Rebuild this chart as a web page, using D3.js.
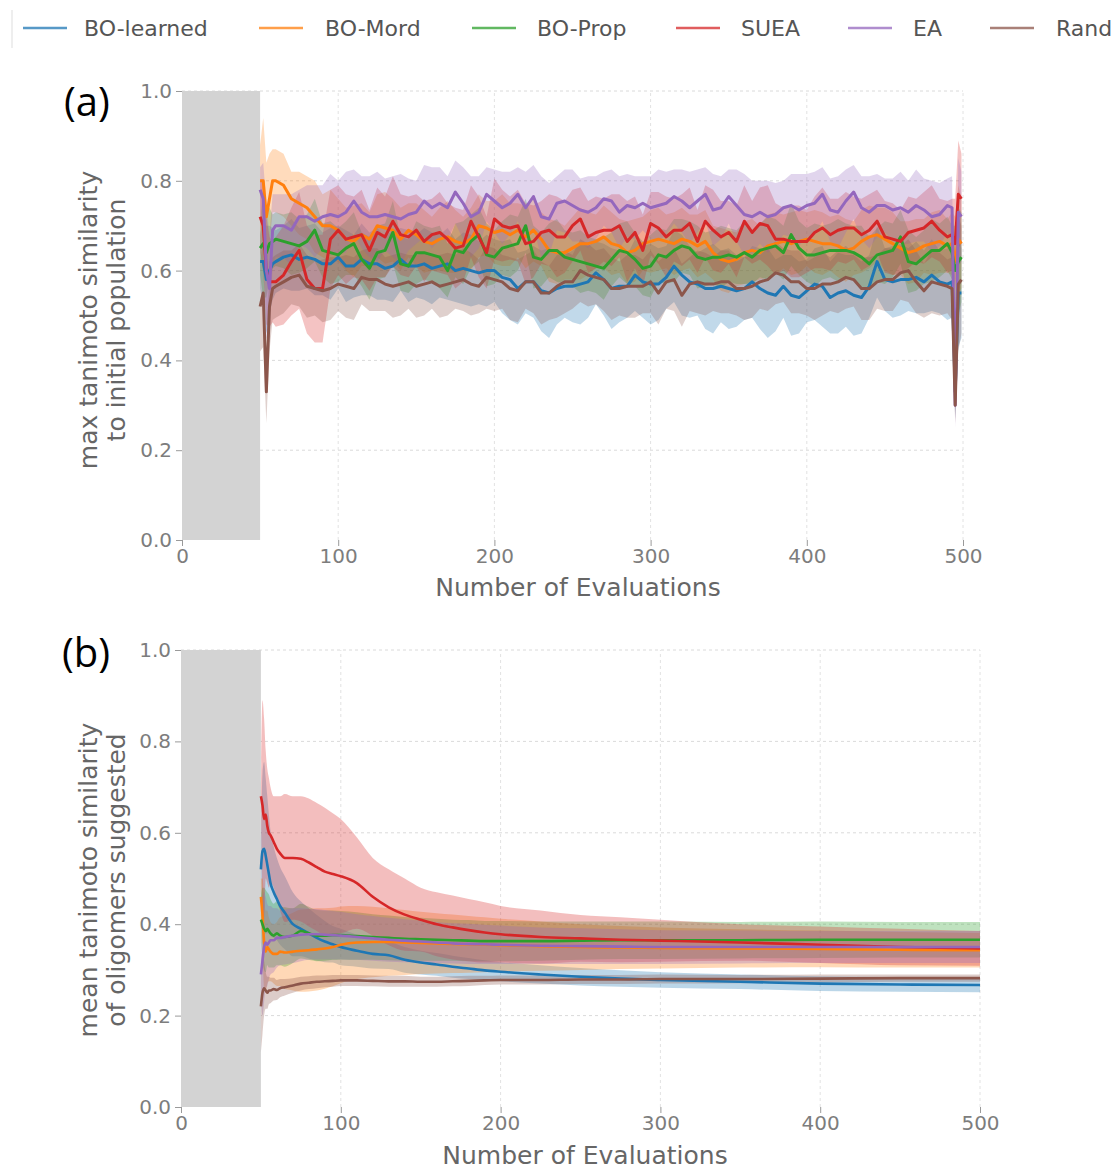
<!DOCTYPE html>
<html><head><meta charset="utf-8">
<script src="https://cdn.jsdelivr.net/npm/d3@7"></script>
<style>body{margin:0;background:#fff} svg{display:block}</style>
</head><body>
<svg id="c" width="1115" height="1169"></svg>
<script>
// ---------- categories / legend ----------
const seriesNames = ["BO-learned", "BO-Mord", "BO-Prop", "SUEA", "EA", "Rand"];
const seriesColors = ["#1f77b4", "#ff7f0e", "#2ca02c", "#d62728", "#9467bd", "#8c564b"];
const xTicks = [0, 100, 200, 300, 400, 500];
const yTicks = [0.0, 0.2, 0.4, 0.6, 0.8, 1.0];
const initialPopulationEnd = 50;

// ---------- panel (a): max tanimoto similarity to initial population ----------
const xA = [50,52,54,56,58,60,
65,70,75,80,85,90,95,100,
105,110,115,120,125,130,135,140,
145,150,155,160,165,170,175,180,
185,190,195,200,205,210,215,220,
225,230,235,240,245,250,255,260,
265,270,275,280,285,290,295,300,
305,310,315,320,325,330,335,340,
345,350,355,360,365,370,375,380,
385,390,395,400,405,410,415,420,
425,430,435,440,445,450,455,460,
465,470,475,480,485,490,
493,495,497,499];

const aBOlearned = [0.62,0.62,0.58,0.60,0.615,0.62,
0.63,0.635,0.625,0.63,0.625,0.615,0.615,0.63,
0.61,0.61,0.625,0.615,0.615,0.605,0.61,0.625,
0.61,0.61,0.615,0.605,0.61,0.615,0.60,0.605,
0.60,0.595,0.60,0.60,0.585,0.58,0.56,0.575,
0.575,0.555,0.55,0.56,0.565,0.565,0.57,0.575,
0.595,0.58,0.56,0.565,0.565,0.59,0.575,0.57,
0.57,0.585,0.61,0.59,0.575,0.57,0.56,0.56,
0.565,0.56,0.555,0.56,0.575,0.56,0.55,0.545,
0.565,0.545,0.54,0.555,0.57,0.565,0.54,0.55,
0.555,0.545,0.54,0.565,0.62,0.58,0.575,0.58,
0.58,0.585,0.575,0.59,0.575,0.57,
0.575,0.33,0.55,0.55];

const aBOMord = [0.80,0.80,0.72,0.76,0.80,0.80,
0.79,0.76,0.75,0.74,0.72,0.70,0.70,0.69,
0.67,0.665,0.68,0.67,0.70,0.695,0.69,0.67,
0.69,0.68,0.665,0.66,0.67,0.675,0.665,0.66,
0.67,0.70,0.695,0.685,0.69,0.68,0.69,0.675,
0.69,0.67,0.645,0.64,0.64,0.65,0.66,0.66,
0.665,0.675,0.66,0.655,0.64,0.645,0.66,0.665,
0.67,0.665,0.66,0.67,0.665,0.655,0.665,0.64,
0.625,0.62,0.625,0.64,0.645,0.64,0.655,0.66,
0.665,0.66,0.665,0.67,0.665,0.66,0.66,0.655,
0.645,0.65,0.665,0.675,0.68,0.67,0.66,0.65,
0.64,0.645,0.655,0.66,0.665,0.655,
0.66,0.62,0.67,0.66];

const aBOProp = [0.65,0.66,0.64,0.66,0.665,0.67,
0.665,0.66,0.655,0.665,0.69,0.645,0.64,0.635,
0.65,0.66,0.625,0.605,0.64,0.645,0.685,0.615,
0.61,0.64,0.64,0.635,0.63,0.60,0.645,0.64,
0.665,0.68,0.635,0.63,0.65,0.655,0.66,0.70,
0.63,0.625,0.645,0.645,0.63,0.625,0.62,0.615,
0.61,0.605,0.625,0.645,0.64,0.625,0.605,0.61,
0.635,0.63,0.645,0.655,0.65,0.63,0.625,0.63,
0.63,0.635,0.63,0.64,0.63,0.645,0.65,0.655,
0.64,0.68,0.65,0.635,0.635,0.64,0.645,0.645,
0.645,0.64,0.63,0.615,0.635,0.64,0.645,0.675,
0.62,0.615,0.63,0.645,0.645,0.66,
0.64,0.60,0.62,0.63];

const aSUEA = [0.72,0.70,0.60,0.575,0.575,0.575,
0.59,0.62,0.645,0.58,0.56,0.56,0.67,0.69,
0.67,0.675,0.68,0.645,0.685,0.675,0.71,0.68,
0.675,0.69,0.665,0.68,0.685,0.67,0.65,0.655,
0.71,0.675,0.64,0.715,0.70,0.695,0.70,0.66,
0.665,0.685,0.69,0.675,0.675,0.70,0.715,0.675,
0.685,0.69,0.69,0.70,0.665,0.685,0.645,0.705,
0.695,0.675,0.69,0.69,0.705,0.665,0.71,0.69,
0.675,0.685,0.665,0.71,0.685,0.705,0.70,0.67,
0.67,0.665,0.665,0.665,0.685,0.695,0.68,0.69,
0.695,0.695,0.68,0.69,0.71,0.675,0.67,0.665,
0.685,0.69,0.695,0.71,0.69,0.675,
0.68,0.66,0.77,0.76];

const aEA = [0.78,0.76,0.60,0.56,0.69,0.70,
0.70,0.69,0.72,0.72,0.71,0.72,0.725,0.72,
0.73,0.755,0.73,0.72,0.72,0.725,0.72,0.715,
0.725,0.73,0.755,0.74,0.75,0.74,0.775,0.75,
0.72,0.73,0.77,0.755,0.74,0.75,0.77,0.74,
0.765,0.72,0.715,0.75,0.755,0.745,0.735,0.73,
0.74,0.76,0.755,0.73,0.745,0.74,0.75,0.74,
0.745,0.75,0.765,0.755,0.74,0.755,0.77,0.735,
0.74,0.765,0.745,0.725,0.72,0.73,0.72,0.725,
0.74,0.745,0.735,0.745,0.75,0.77,0.735,0.73,
0.755,0.775,0.74,0.73,0.745,0.745,0.735,0.74,
0.73,0.745,0.735,0.72,0.725,0.745,
0.74,0.30,0.73,0.72];

const aRand = [0.52,0.55,0.33,0.52,0.56,0.565,
0.575,0.585,0.59,0.565,0.56,0.555,0.56,0.57,
0.565,0.56,0.585,0.58,0.58,0.57,0.565,0.57,
0.575,0.565,0.57,0.575,0.565,0.57,0.575,0.58,
0.57,0.565,0.585,0.58,0.575,0.56,0.555,0.575,
0.575,0.55,0.55,0.565,0.575,0.575,0.60,0.59,
0.585,0.58,0.56,0.56,0.565,0.565,0.565,0.575,
0.55,0.575,0.58,0.545,0.57,0.575,0.57,0.57,
0.575,0.575,0.56,0.56,0.565,0.575,0.58,0.595,
0.59,0.575,0.575,0.56,0.56,0.57,0.57,0.575,
0.585,0.58,0.56,0.56,0.575,0.58,0.58,0.595,
0.60,0.575,0.555,0.575,0.57,0.565,
0.56,0.30,0.57,0.58];

// spread (std) of the shaded bands, panel (a)
const sdA_BOlearned = [0.06,0.10,0.12,0.10,0.08,0.07,
0.07,0.08,0.07,0.07,0.08,0.07,0.08,0.07,
0.08,0.07,0.08,0.07,0.08,0.07,0.08,0.07,
0.08,0.07,0.08,0.08,0.07,0.08,0.07,0.08,
0.08,0.07,0.08,0.07,0.08,0.09,0.08,0.07,
0.08,0.09,0.10,0.08,0.07,0.08,0.09,0.08,
0.07,0.08,0.09,0.08,0.07,0.08,0.08,0.09,
0.08,0.07,0.08,0.09,0.08,0.07,0.09,0.10,
0.08,0.09,0.08,0.07,0.08,0.09,0.10,0.08,
0.07,0.09,0.08,0.07,0.08,0.09,0.08,0.09,
0.08,0.09,0.08,0.07,0.08,0.07,0.08,0.08,
0.07,0.08,0.07,0.08,0.07,0.08,
0.08,0.06,0.12,0.10];
const sdA_BOMord = [0.08,0.14,0.12,0.10,0.07,0.07,
0.07,0.06,0.07,0.07,0.08,0.07,0.08,0.07,
0.07,0.08,0.07,0.06,0.07,0.08,0.07,0.07,
0.06,0.07,0.07,0.06,0.07,0.08,0.07,0.06,
0.07,0.07,0.06,0.07,0.08,0.07,0.06,0.07,
0.07,0.06,0.07,0.07,0.06,0.07,0.08,0.07,
0.06,0.07,0.07,0.06,0.07,0.07,0.06,0.07,
0.07,0.06,0.07,0.07,0.06,0.07,0.07,0.06,
0.07,0.07,0.06,0.07,0.07,0.06,0.07,0.07,
0.06,0.07,0.07,0.06,0.07,0.07,0.06,0.07,
0.07,0.06,0.07,0.07,0.06,0.07,0.07,0.06,
0.07,0.07,0.06,0.07,0.07,0.06,
0.07,0.10,0.12,0.10];
const sdA_BOProp = [0.06,0.12,0.10,0.08,0.06,0.06,
0.06,0.07,0.06,0.06,0.07,0.06,0.07,0.06,
0.06,0.07,0.06,0.07,0.06,0.06,0.07,0.06,
0.06,0.07,0.06,0.06,0.07,0.06,0.06,0.07,
0.06,0.06,0.07,0.06,0.06,0.07,0.06,0.06,
0.07,0.06,0.06,0.07,0.06,0.06,0.07,0.06,
0.06,0.07,0.06,0.06,0.07,0.06,0.06,0.07,
0.06,0.06,0.07,0.06,0.06,0.07,0.06,0.06,
0.07,0.06,0.06,0.07,0.06,0.06,0.07,0.06,
0.06,0.07,0.06,0.06,0.07,0.06,0.06,0.07,
0.06,0.06,0.07,0.06,0.06,0.07,0.06,0.06,
0.07,0.06,0.06,0.07,0.06,0.06,
0.06,0.10,0.12,0.10];
const sdA_SUEA = [0.08,0.10,0.12,0.10,0.09,0.10,
0.11,0.12,0.13,0.12,0.12,0.12,0.11,0.10,
0.10,0.09,0.10,0.09,0.10,0.09,0.10,0.09,
0.09,0.08,0.09,0.08,0.09,0.08,0.09,0.08,
0.08,0.09,0.08,0.09,0.08,0.07,0.08,0.09,
0.08,0.07,0.08,0.09,0.08,0.08,0.07,0.08,
0.08,0.07,0.08,0.07,0.09,0.08,0.08,0.07,
0.08,0.09,0.07,0.08,0.08,0.07,0.08,0.09,
0.08,0.07,0.08,0.08,0.07,0.08,0.09,0.08,
0.07,0.08,0.08,0.07,0.08,0.09,0.08,0.07,
0.08,0.07,0.08,0.08,0.07,0.08,0.08,0.07,
0.08,0.07,0.08,0.08,0.07,0.08,
0.08,0.10,0.12,0.10];
const sdA_EA = [0.05,0.08,0.15,0.12,0.08,0.07,
0.07,0.08,0.06,0.07,0.08,0.07,0.09,0.08,
0.09,0.07,0.08,0.09,0.10,0.08,0.09,0.10,
0.08,0.07,0.08,0.09,0.08,0.07,0.07,0.08,
0.09,0.08,0.06,0.07,0.08,0.07,0.06,0.08,
0.07,0.09,0.08,0.06,0.07,0.08,0.07,0.08,
0.07,0.06,0.07,0.08,0.07,0.07,0.06,0.07,
0.08,0.07,0.06,0.07,0.08,0.07,0.06,0.08,
0.07,0.06,0.08,0.09,0.08,0.07,0.08,0.07,
0.06,0.07,0.08,0.07,0.07,0.06,0.07,0.08,
0.07,0.06,0.07,0.08,0.07,0.06,0.07,0.08,
0.07,0.08,0.07,0.08,0.07,0.06,
0.07,0.05,0.12,0.10];
const sdA_Rand = [0.10,0.12,0.07,0.10,0.07,0.07,
0.07,0.06,0.07,0.07,0.06,0.07,0.07,0.06,
0.07,0.07,0.06,0.07,0.07,0.06,0.07,0.07,
0.06,0.07,0.07,0.06,0.07,0.07,0.06,0.07,
0.07,0.06,0.07,0.07,0.06,0.07,0.07,0.06,
0.07,0.07,0.06,0.07,0.07,0.06,0.07,0.07,
0.06,0.07,0.07,0.06,0.07,0.07,0.06,0.07,
0.07,0.06,0.07,0.07,0.06,0.07,0.07,0.06,
0.07,0.07,0.06,0.07,0.07,0.06,0.07,0.07,
0.06,0.07,0.07,0.06,0.07,0.07,0.06,0.07,
0.07,0.06,0.07,0.07,0.06,0.07,0.07,0.06,
0.07,0.07,0.06,0.07,0.07,0.06,
0.07,0.04,0.15,0.12];

// ---------- panel (b): mean tanimoto similarity of oligomers suggested ----------
const xB = [50,51,52,53,54,55,56, 58,60,62,65, 70,75,80,85,90,95,100,
110,120,130,140,150,160,170,180,190,200, 225,250,275,300, 350,400,450,500];

const bBOlearned = [0.52,0.56,0.565,0.55,0.53,0.51,0.49, 0.47,0.455,0.44,0.425,
0.40,0.39,0.38,0.37,0.362,0.356,0.35,
0.342,0.335,0.332,0.322,0.316,0.312,0.307,0.303,0.299,0.296,
0.29,0.285,0.281,0.278, 0.274,0.27,0.268,0.267];
const bBOMord = [0.46,0.42,0.36,0.34,0.35,0.345,0.34, 0.335,0.335,0.34,0.338,
0.34,0.342,0.343,0.345,0.347,0.35,0.355,
0.36,0.361,0.361,0.36,0.359,0.358,0.357,0.356,0.355,0.354,
0.352,0.35,0.349,0.348, 0.347,0.346,0.344,0.343];
const bBOProp = [0.41,0.40,0.39,0.385,0.39,0.385,0.38, 0.375,0.38,0.375,0.372,
0.375,0.385,0.38,0.375,0.375,0.376,0.376,
0.374,0.372,0.37,0.368,0.367,0.366,0.365,0.364,0.363,0.363,
0.363,0.364,0.365,0.365, 0.365,0.366,0.366,0.366];
const bSUEA = [0.68,0.66,0.63,0.64,0.615,0.60,0.595, 0.58,0.565,0.555,0.545,
0.545,0.543,0.535,0.525,0.515,0.51,0.505,
0.49,0.46,0.437,0.421,0.41,0.40,0.393,0.387,0.382,0.378,
0.372,0.369,0.366,0.364, 0.36,0.355,0.35,0.347];
const bEA = [0.29,0.32,0.35,0.36,0.355,0.36,0.365, 0.365,0.37,0.37,0.372,
0.375,0.377,0.378,0.378,0.377,0.376,0.375,
0.372,0.369,0.366,0.364,0.362,0.36,0.358,0.357,0.356,0.355,
0.353,0.352,0.351,0.35, 0.35,0.35,0.35,0.35];
const bRand = [0.22,0.25,0.26,0.255,0.25,0.255,0.255, 0.258,0.256,0.26,0.262,
0.266,0.27,0.272,0.274,0.275,0.276,0.277,
0.277,0.276,0.275,0.275,0.274,0.274,0.275,0.276,0.277,0.278,
0.278,0.279,0.279,0.28, 0.28,0.281,0.282,0.282];

const sdB_BOlearned = [0.05,0.17,0.19,0.17,0.15,0.13,0.115, 0.10,0.09,0.085,0.08,
0.07,0.06,0.055,0.05,0.045,0.04,0.04,
0.035,0.032,0.03,0.028,0.026,0.025,0.024,0.023,0.022,0.021,
0.02,0.019,0.018,0.017, 0.016,0.016,0.016,0.016];
const sdB_BOMord = [0.04,0.08,0.10,0.09,0.08,0.07,0.065, 0.065,0.07,0.075,0.08,
0.085,0.09,0.09,0.09,0.088,0.086,0.084,
0.08,0.077,0.074,0.071,0.068,0.066,0.064,0.062,0.06,0.058,
0.054,0.05,0.047,0.045, 0.042,0.04,0.039,0.038];
const sdB_BOProp = [0.05,0.08,0.09,0.09,0.08,0.08,0.075, 0.07,0.07,0.065,0.065,
0.06,0.06,0.058,0.056,0.055,0.054,0.053,
0.052,0.05,0.049,0.048,0.047,0.046,0.045,0.045,0.044,0.044,
0.043,0.042,0.041,0.041, 0.04,0.04,0.039,0.039];
const sdB_SUEA = [0.02,0.23,0.22,0.14,0.125,0.12,0.105, 0.10,0.115,0.125,0.14,
0.135,0.137,0.14,0.14,0.14,0.133,0.125,
0.10,0.085,0.083,0.079,0.07,0.07,0.07,0.068,0.066,0.062,
0.058,0.051,0.049,0.046, 0.04,0.04,0.04,0.038];
const sdB_EA = [0.05,0.12,0.12,0.10,0.09,0.08,0.075, 0.07,0.065,0.06,0.06,
0.06,0.058,0.056,0.055,0.054,0.053,0.052,
0.05,0.049,0.048,0.047,0.046,0.045,0.044,0.044,0.043,0.042,
0.04,0.039,0.038,0.037, 0.036,0.035,0.035,0.035];
const sdB_Rand = [0.10,0.09,0.06,0.04,0.035,0.03,0.028, 0.025,0.022,0.02,0.018,
0.016,0.015,0.014,0.014,0.013,0.013,0.012,
0.012,0.012,0.012,0.012,0.011,0.011,0.011,0.011,0.01,0.01,
0.01,0.01,0.01,0.01, 0.009,0.009,0.008,0.008];

// ---------- drawing ----------
const svg = d3.select("#c");
svg.append("rect").attr("width", 1115).attr("height", 1169).attr("fill", "#fff");

const FONT = "'DejaVu Sans', sans-serif";

function drawPanel(cfg) {
  const x = d3.scaleLinear().domain([0, 500]).range([cfg.left, cfg.right]);
  const y = d3.scaleLinear().domain([0, 1]).range([cfg.bottom, cfg.top]);
  const g = svg.append("g");

  // grid
  const grid = g.append("g");
  grid.selectAll("line.gy").data(yTicks.filter(d => d > 0)).join("line")
    .attr("x1", x(0)).attr("x2", x(500)).attr("y1", d => y(d)).attr("y2", d => y(d))
    .attr("stroke", "#dadada").attr("stroke-width", 1).attr("stroke-dasharray", "3,3");
  grid.selectAll("line.gx").data(xTicks.filter(d => d > 0)).join("line")
    .attr("y1", y(0)).attr("y2", y(1)).attr("x1", d => x(d)).attr("x2", d => x(d))
    .attr("stroke", "#e2e2e2").attr("stroke-width", 1).attr("stroke-dasharray", "3,3");

  // initial population region
  g.append("rect")
    .attr("x", x(0)).attr("y", y(1))
    .attr("width", x(initialPopulationEnd) - x(0)).attr("height", y(0) - y(1))
    .attr("fill", "#d3d3d3");

  const curve = cfg.curve;
  // bands
  cfg.means.forEach((m, i) => {
    const sd = cfg.sds[i];
    const n = Math.min(cfg.xs.length, m.length, sd.length);
    const pts = d3.range(n).map(k => ({x: cfg.xs[k], lo: m[k] - sd[k], hi: m[k] + sd[k]}));
    const area = d3.area().x(d => x(d.x)).y0(d => y(d.lo)).y1(d => y(d.hi)).curve(curve);
    g.append("path").attr("d", area(pts))
      .attr("fill", seriesColors[i]).attr("fill-opacity", cfg.bandOpacity).attr("stroke", "none");
  });
  // mean lines
  cfg.means.forEach((m, i) => {
    const n = Math.min(cfg.xs.length, m.length);
    const pts = d3.range(n).map(k => ({x: cfg.xs[k], v: m[k]}));
    const line = d3.line().x(d => x(d.x)).y(d => y(d.v)).curve(curve);
    g.append("path").attr("d", line(pts))
      .attr("fill", "none").attr("stroke", seriesColors[i])
      .attr("stroke-width", cfg.lineWidth).attr("stroke-linejoin", "round");
  });

  // axes
  const ya = g.append("g").attr("transform", `translate(${x(0)},0)`)
    .call(d3.axisLeft(y).tickValues(yTicks).tickFormat(d3.format(".1f")).tickSize(6).tickPadding(4));
  const xa = g.append("g").attr("transform", `translate(0,${y(0)})`)
    .call(d3.axisBottom(x).tickValues(xTicks).tickFormat(d3.format("d")).tickSize(6).tickPadding(3));
  [ya, xa].forEach(a => {
    a.select(".domain").remove();
    a.selectAll(".tick line").attr("stroke", "#9a9a9a").attr("stroke-width", 1);
    a.selectAll(".tick text").attr("fill", "#7d7d7d").style("font-size", "20px").style("font-family", FONT);
  });

  // x-axis label
  g.append("text").attr("x", cfg.xLabelX).attr("y", cfg.xLabelY)
    .attr("text-anchor", "middle").attr("fill", "#666")
    .style("font-size", "25px").style("font-family", FONT).text("Number of Evaluations");

  // y-axis label (two lines)
  cfg.yLabel.forEach((t, i) => {
    g.append("text")
      .attr("transform", `translate(${cfg.yLabelX[i]},${cfg.yLabelY}) rotate(-90)`)
      .attr("text-anchor", "middle").attr("fill", "#666")
      .style("font-size", "25px").style("font-family", FONT).text(t);
  });

  // panel letter
  g.append("text").attr("x", cfg.letterX).attr("y", cfg.letterY)
    .attr("fill", "#000").style("font-size", "40px").style("font-family", "'Open Sans', 'Liberation Sans', sans-serif")
    .text(cfg.letter);
}

drawPanel({
  left: 182, right: 963, top: 91, bottom: 540,
  xs: xA,
  means: [aBOlearned, aBOMord, aBOProp, aSUEA, aEA, aRand],
  sds: [sdA_BOlearned, sdA_BOMord, sdA_BOProp, sdA_SUEA, sdA_EA, sdA_Rand],
  curve: d3.curveLinear, bandOpacity: 0.28, lineWidth: 3,
  xLabelX: 578, xLabelY: 596,
  yLabel: ["max tanimoto similarity", "to initial population"],
  yLabelX: [97, 125], yLabelY: 320,
  letter: "(a)", letterX: 64, letterY: 116
});

drawPanel({
  left: 181, right: 980, top: 650, bottom: 1107,
  xs: xB,
  means: [bBOlearned, bBOMord, bBOProp, bSUEA, bEA, bRand],
  sds: [sdB_BOlearned, sdB_BOMord, sdB_BOProp, sdB_SUEA, sdB_EA, sdB_Rand],
  curve: d3.curveMonotoneX, bandOpacity: 0.3, lineWidth: 2.6,
  xLabelX: 585, xLabelY: 1164,
  yLabel: ["mean tanimoto similarity", "of oligomers suggested"],
  yLabelX: [97, 125], yLabelY: 880,
  letter: "(b)", letterX: 62, letterY: 667
});

// ---------- legend ----------
const legendLineX = [23, 259, 472, 676, 848, 990];
const legendTextX = [84, 325, 537, 741, 913, 1056];
const lg = svg.append("g");
lg.append("line").attr("x1", 12).attr("x2", 12).attr("y1", 10).attr("y2", 48)
  .attr("stroke", "#dddddd").attr("stroke-width", 1);
seriesNames.forEach((name, i) => {
  lg.append("line").attr("x1", legendLineX[i]).attr("x2", legendLineX[i] + 44)
    .attr("y1", 28).attr("y2", 28)
    .attr("stroke", seriesColors[i]).attr("stroke-width", 2.5).attr("stroke-opacity", 0.75);
  lg.append("text").attr("x", legendTextX[i]).attr("y", 36)
    .attr("fill", "#555").style("font-size", "22px").style("font-family", FONT).text(name);
});
</script>
</body></html>
